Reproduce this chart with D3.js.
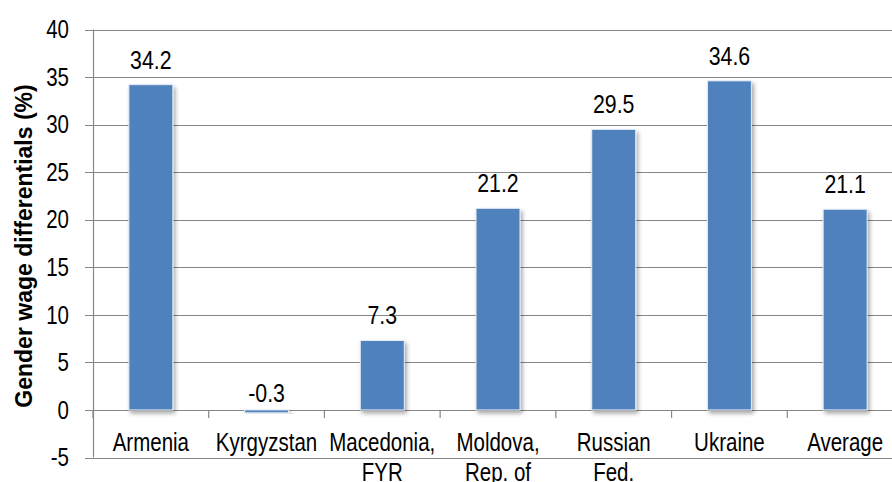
<!DOCTYPE html>
<html>
<head>
<meta charset="utf-8">
<script src="https://cdn.jsdelivr.net/npm/d3@7"></script>
<style>
  body { margin: 0; background: #fff; }
  svg { display: block; }
  text { font-family: "Liberation Sans", Arial, sans-serif; fill: #000; }
</style>
</head>
<body>
<div id="chart"></div>
<script>
// data
var countries = ["Armenia", "Kyrgyzstan", "Macedonia,|FYR", "Moldova,|Rep. of", "Russian|Fed.", "Ukraine", "Average"];
var wageGap = [34.2, -0.3, 7.3, 21.2, 29.5, 34.6, 21.1];
var yTicks = [-5, 0, 5, 10, 15, 20, 25, 30, 35, 40];

var W = 892, H = 482;
var plotLeft = 93, plotRight = 903, plotTop = 29.5, plotBottom = 457.5;
var squeeze = 0.82; // narrow font look

// squeeze a text horizontally around its anchor point
function narrow(sel, fx, fy) {
    sel.attr("transform", function (d, i) {
        var px = fx(d, i), py = fy(d, i);
        return "translate(" + px + "," + py + ") scale(" + squeeze + ",1) translate(" + (-px) + "," + (-py) + ")";
    });
}

var svg = d3.select("#chart")
    .append("svg")
    .attr("width", W)
    .attr("height", H);

// soft shadow under the bars
var defs = svg.append("defs");
var f = defs.append("filter").attr("id", "shadow")
    .attr("x", "-20%").attr("y", "-10%").attr("width", "150%").attr("height", "130%");
f.append("feDropShadow")
    .attr("dx", 2).attr("dy", 3)
    .attr("stdDeviation", 2)
    .attr("flood-color", "#000")
    .attr("flood-opacity", 0.35);

var data = countries.map(function (c, i) { return { name: c, value: wageGap[i] }; });

var x = d3.scaleBand()
    .domain(countries)
    .range([plotLeft, plotRight])
    .paddingInner(0.62)
    .paddingOuter(0.31);

var y = d3.scaleLinear()
    .domain([-5, 40])
    .range([plotBottom, plotTop]);

// gridlines (with the little tick stub left of the axis)
svg.append("g")
    .selectAll("line")
    .data(yTicks)
    .enter()
    .append("line")
    .attr("x1", plotLeft - 8)
    .attr("x2", W)
    .attr("y1", function (d) { return Math.round(y(d)) + 0.5; })
    .attr("y2", function (d) { return Math.round(y(d)) + 0.5; })
    .attr("stroke", "#868686")
    .attr("stroke-width", 1.2);

// y axis line
svg.append("line")
    .attr("x1", plotLeft + 0.5).attr("x2", plotLeft + 0.5)
    .attr("y1", y(40)).attr("y2", y(-5))
    .attr("stroke", "#868686")
    .attr("stroke-width", 1.2);

// y tick labels
var yLab = svg.append("g")
    .selectAll("text")
    .data(yTicks)
    .enter()
    .append("text")
    .attr("x", plotLeft - 24)
    .attr("y", function (d) { return y(d); })
    .attr("dy", "0.35em")
    .attr("text-anchor", "end")
    .attr("font-size", "25px")
    .text(function (d) { return d; });
narrow(yLab, function () { return plotLeft - 24; }, function (d) { return y(d); });

// category ticks below the zero line
var step = x.step();
var boundaries = d3.range(countries.length + 1).map(function (i) { return plotLeft + i * step; });
svg.append("g")
    .selectAll("line")
    .data(boundaries)
    .enter()
    .append("line")
    .attr("x1", function (d) { return d; })
    .attr("x2", function (d) { return d; })
    .attr("y1", y(0))
    .attr("y2", y(0) + 8)
    .attr("stroke", "#868686")
    .attr("stroke-width", 1.2);

// bars
svg.append("g")
    .selectAll("rect")
    .data(data)
    .enter()
    .append("rect")
    .attr("x", function (d) { return x(d.name); })
    .attr("y", function (d) { return y(Math.max(0, d.value)); })
    .attr("width", x.bandwidth())
    .attr("height", function (d) { return Math.abs(y(d.value) - y(0)); })
    .attr("fill", "#4f81bd")
    .attr("stroke", "#e4ecf6")
    .attr("stroke-width", 1)
    .attr("filter", "url(#shadow)");

// value labels
var cx = function (d) { return x(d.name) + x.bandwidth() / 2; };
var vy = function (d) { return d.value >= 0 ? y(d.value) - 16 : y(0) - 8; };
var vals = svg.append("g")
    .selectAll("text")
    .data(data)
    .enter()
    .append("text")
    .attr("x", cx)
    .attr("y", vy)
    .attr("text-anchor", "middle")
    .attr("font-size", "26px")
    .text(function (d) { return d.value.toFixed(1); });
narrow(vals, cx, vy);

// category labels (two lines where needed)
var cat = svg.append("g")
    .selectAll("text")
    .data(data)
    .enter()
    .append("text")
    .attr("x", cx)
    .attr("y", 451)
    .attr("text-anchor", "middle")
    .attr("font-size", "25px");
cat.selectAll("tspan")
    .data(function (d) { return d.name.split("|"); })
    .enter()
    .append("tspan")
    .attr("x", function () { return cx(d3.select(this.parentNode).datum()); })
    .attr("dy", function (d, i) { return i === 0 ? 0 : 30; })
    .text(function (d) { return d; });
narrow(cat, cx, function () { return 451; });

// y axis title
svg.append("text")
    .attr("transform", "translate(32,246) rotate(-90)")
    .attr("text-anchor", "middle")
    .attr("font-weight", "bold")
    .attr("font-size", "23px")
    .text("Gender wage differentials (%)");
</script>
</body>
</html>
